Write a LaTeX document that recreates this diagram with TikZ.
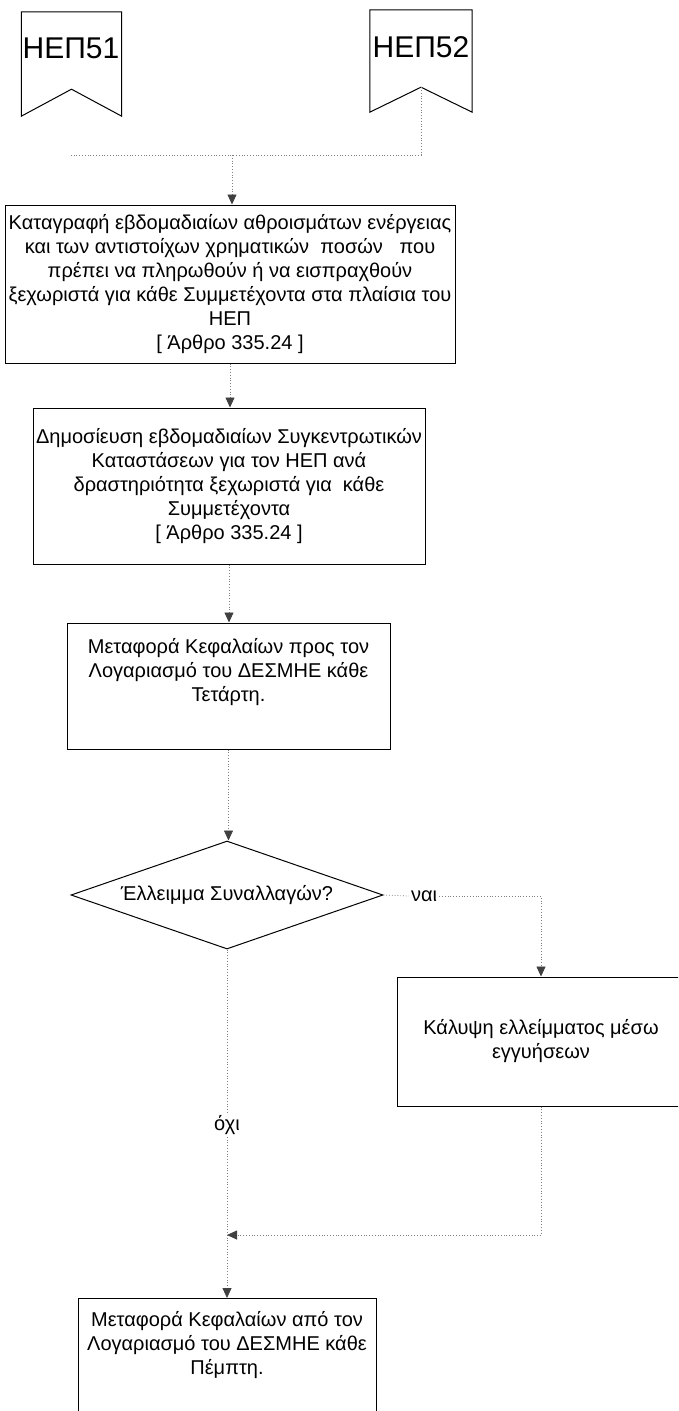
\documentclass[tikz,border=0pt]{standalone}
\usepackage{fontspec}
\setmainfont{Liberation Sans}
\usetikzlibrary{shapes.geometric,arrows.meta,calc}
\begin{document}
\begin{tikzpicture}[x=1pt,y=-1pt,
  conn/.style={draw=black!50, dotted, line width=0.8pt},
  arr/.style={conn, -{Triangle[width=9pt,length=10pt,color=black!75,fill=black!75]}},
  txt/.style={font=\fontsize{20}{24}\selectfont, align=center, inner sep=0pt},
  box/.style={draw=black, line width=1pt, inner sep=0pt, align=center, font=\fontsize{20}{24}\selectfont},
  pen/.style={minimum width=100pt, minimum height=104pt, inner sep=0pt},
  penline/.style={draw=black, line width=1pt, line join=miter},
  pentext/.style={font=\fontsize{30}{36}\selectfont, inner sep=0pt},
  dia/.style={diamond, draw=black, line width=1pt, aspect=2.9, minimum width=312pt, minimum height=108pt, inner sep=0pt, font=\fontsize{20}{24}\selectfont},
  lbl/.style={txt, fill=white, inner sep=2pt}]
\useasboundingbox (0,0) rectangle (678,1411);
\clip (0,0) rectangle (678,1411);

% pennants
\node[pen] (p51) at (71.5,64) {};
\draw[penline] (p51.north west) -- (p51.north east) -- (p51.south east) -- ($(p51.south)+(0,-27)$) -- (p51.south west) -- cycle;
\node[pentext] (t51) at (71,48.5) {ΗΕΠ51};
\node[pen, minimum width=102pt, minimum height=102pt] (p52) at (421,61) {};
\draw[penline] (p52.north west) -- (p52.north east) -- (p52.south east) -- ($(p52.south)+(0,-25)$) -- (p52.south west) -- cycle;
\node[pentext] (t52) at (421,47) {ΗΕΠ52};

% boxes
\node[box, minimum width=450pt, minimum height=158pt] (b1) at (230,284)
 {Καταγραφή εβδομαδιαίων αθροισμάτων ενέργειας\\και των αντιστοίχων χρηματικών\ \ ποσών\ \ \ που\\πρέπει να πληρωθούν ή να εισπραχθούν\\ξεχωριστά για κάθε Συμμετέχοντα στα πλαίσια του\\ΗΕΠ\\{[} Άρθρο 335.24 {]}};
\node[box, minimum width=392pt, minimum height=156pt] (b2) at (229,486)
 {Δημοσίευση εβδομαδιαίων Συγκεντρωτικών\\Καταστάσεων για τον ΗΕΠ ανά\\δραστηριότητα ξεχωριστά για\ \ κάθε\\Συμμετέχοντα\\{[} Άρθρο 335.24 {]}};
\node[box, minimum width=323pt, minimum height=126pt] (b3) at (228.5,686) {};
\node[txt] (t3) at (228.5,672) {Μεταφορά Κεφαλαίων προς τον\\Λογαριασμό του ΔΕΣΜΗΕ κάθε\\Τετάρτη.};
\node[dia] (d) at (227,895) {Έλλειμμα Συναλλαγών?};
\node[box, minimum width=288pt, minimum height=129pt] (b4) at (541,1041.5)
 {Κάλυψη ελλείμματος μέσω\\εγγυήσεων};
\node[box, minimum width=298pt, minimum height=160pt, anchor=north] (b5) at (227,1298) {};
\node[txt] (t5) at (227,1345) {Μεταφορά Κεφαλαίων από τον\\Λογαριασμό του ΔΕΣΜΗΕ κάθε\\Πέμπτη.};

% labels
\node[lbl] (nai) at (424,896) {ναι};
\node[lbl] (ochi) at (227,1125) {όχι};

% coordinates
\coordinate (a52) at ($(p52.south)+(0,-25)$);
\coordinate (j1) at (421,155);
\coordinate (j0) at (71,155);
\coordinate (j2) at (232,155);
\coordinate (m1) at (227,1235);

% connectors
\draw[conn] (a52) -- (j1) -- (j0);
\draw[arr] (j2) -- (j2 |- b1.north);
\draw[arr] (b1.south) -- (b1.south |- b2.north);
\draw[arr] (b2.south) -- (b2.south |- b3.north);
\draw[arr] (b3.south) -- (b3.south |- d.north);
\draw[conn] (d.east) -- (nai.west);
\draw[arr] (nai.east) -| (b4.north);
\draw[conn] (d.south) -- (ochi.north);
\draw[arr] (ochi.south) -- (ochi.south |- b5.north);
\draw[arr] (b4.south) -- (b4.south |- m1) -- (m1);
\end{tikzpicture}
\end{document}
